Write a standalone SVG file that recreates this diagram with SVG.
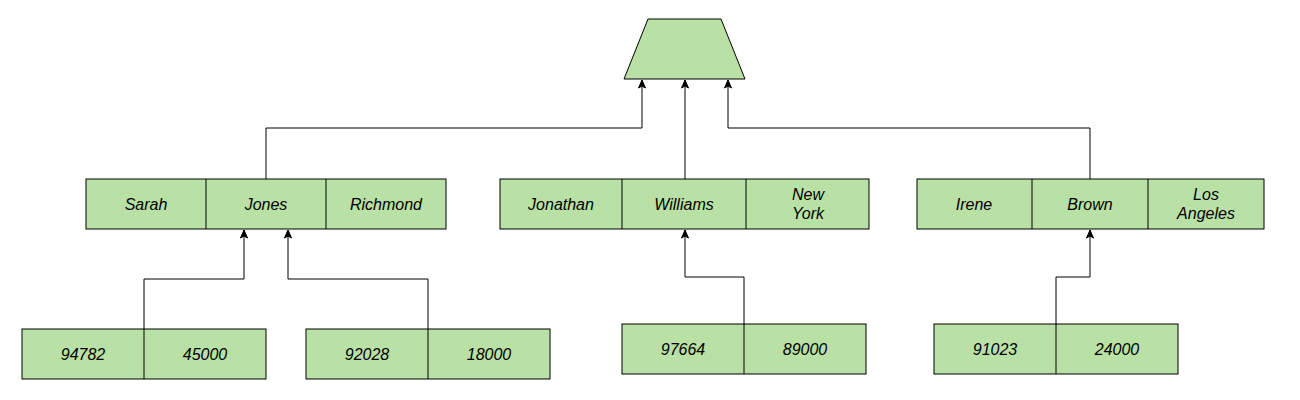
<svg xmlns="http://www.w3.org/2000/svg" width="1300" height="400" viewBox="0 0 1300 400">
<style>
.cell{fill:#B9E0A5;stroke:#000;stroke-width:1}
.div{stroke:#000;stroke-width:1;fill:none}
.lbl{font-family:"Liberation Sans",Arial,sans-serif;font-size:16px;font-style:italic;fill:#000;text-anchor:middle;dominant-baseline:central}
.edge{fill:none;stroke:#000;stroke-width:1}
</style>
<defs>
<marker id="arr" markerUnits="userSpaceOnUse" markerWidth="10" markerHeight="10" viewBox="0 0 10 10" refX="9" refY="5" orient="auto">
<path d="M1,1.5 L9,5 L1,8.5 L3,5 Z" fill="#000" stroke="#000" stroke-width="1"/>
</marker>
</defs>
<rect width="1300" height="400" fill="#fff"/>
<g id="root">
<polygon class="cell" points="648,19 721,19 745,79 624,79"/>
</g>
<g id="sarah-row">
<rect class="cell" x="86" y="179" width="360" height="50"/>
<line class="div" x1="206" y1="179" x2="206" y2="229"/>
<line class="div" x1="326" y1="179" x2="326" y2="229"/>
<text class="lbl" x="146" y="204">Sarah</text>
<text class="lbl" x="266" y="204">Jones</text>
<text class="lbl" x="386" y="204">Richmond</text>
</g>
<g id="jonathan-row">
<rect class="cell" x="500" y="179" width="369" height="50"/>
<line class="div" x1="622" y1="179" x2="622" y2="229"/>
<line class="div" x1="746" y1="179" x2="746" y2="229"/>
<text class="lbl" x="561" y="204">Jonathan</text>
<text class="lbl" x="684" y="204">Williams</text>
<text class="lbl" x="808" y="194">New</text>
<text class="lbl" x="808" y="213">York</text>
</g>
<g id="irene-row">
<rect class="cell" x="917" y="179" width="347" height="50"/>
<line class="div" x1="1032" y1="179" x2="1032" y2="229"/>
<line class="div" x1="1148" y1="179" x2="1148" y2="229"/>
<text class="lbl" x="974" y="204">Irene</text>
<text class="lbl" x="1090" y="204">Brown</text>
<text class="lbl" x="1206" y="194">Los</text>
<text class="lbl" x="1206" y="213">Angeles</text>
</g>
<g id="r94782">
<rect class="cell" x="22" y="329" width="244" height="50"/>
<line class="div" x1="144" y1="329" x2="144" y2="379"/>
<text class="lbl" x="83" y="354">94782</text>
<text class="lbl" x="205" y="354">45000</text>
</g>
<g id="r92028">
<rect class="cell" x="306" y="329" width="244" height="50"/>
<line class="div" x1="428" y1="329" x2="428" y2="379"/>
<text class="lbl" x="367" y="354">92028</text>
<text class="lbl" x="489" y="354">18000</text>
</g>
<g id="r97664">
<rect class="cell" x="622" y="324" width="244" height="50"/>
<line class="div" x1="744" y1="324" x2="744" y2="374"/>
<text class="lbl" x="683" y="349">97664</text>
<text class="lbl" x="805" y="349">89000</text>
</g>
<g id="r91023">
<rect class="cell" x="934" y="324" width="244" height="50"/>
<line class="div" x1="1056" y1="324" x2="1056" y2="374"/>
<text class="lbl" x="995" y="349">91023</text>
<text class="lbl" x="1117" y="349">24000</text>
</g>
<g id="connectors">
<path class="edge" d="M266,179 V128 H642 V80" marker-end="url(#arr)"/>
<path class="edge" d="M685,179 V80" marker-end="url(#arr)"/>
<path class="edge" d="M1090,179 V128 H728 V80" marker-end="url(#arr)"/>
<path class="edge" d="M144,329 V279 H244 V230" marker-end="url(#arr)"/>
<path class="edge" d="M428,329 V279 H288 V230" marker-end="url(#arr)"/>
<path class="edge" d="M744,324 V277 H685 V230" marker-end="url(#arr)"/>
<path class="edge" d="M1056,324 V277 H1090 V230" marker-end="url(#arr)"/>
</g>
</svg>
